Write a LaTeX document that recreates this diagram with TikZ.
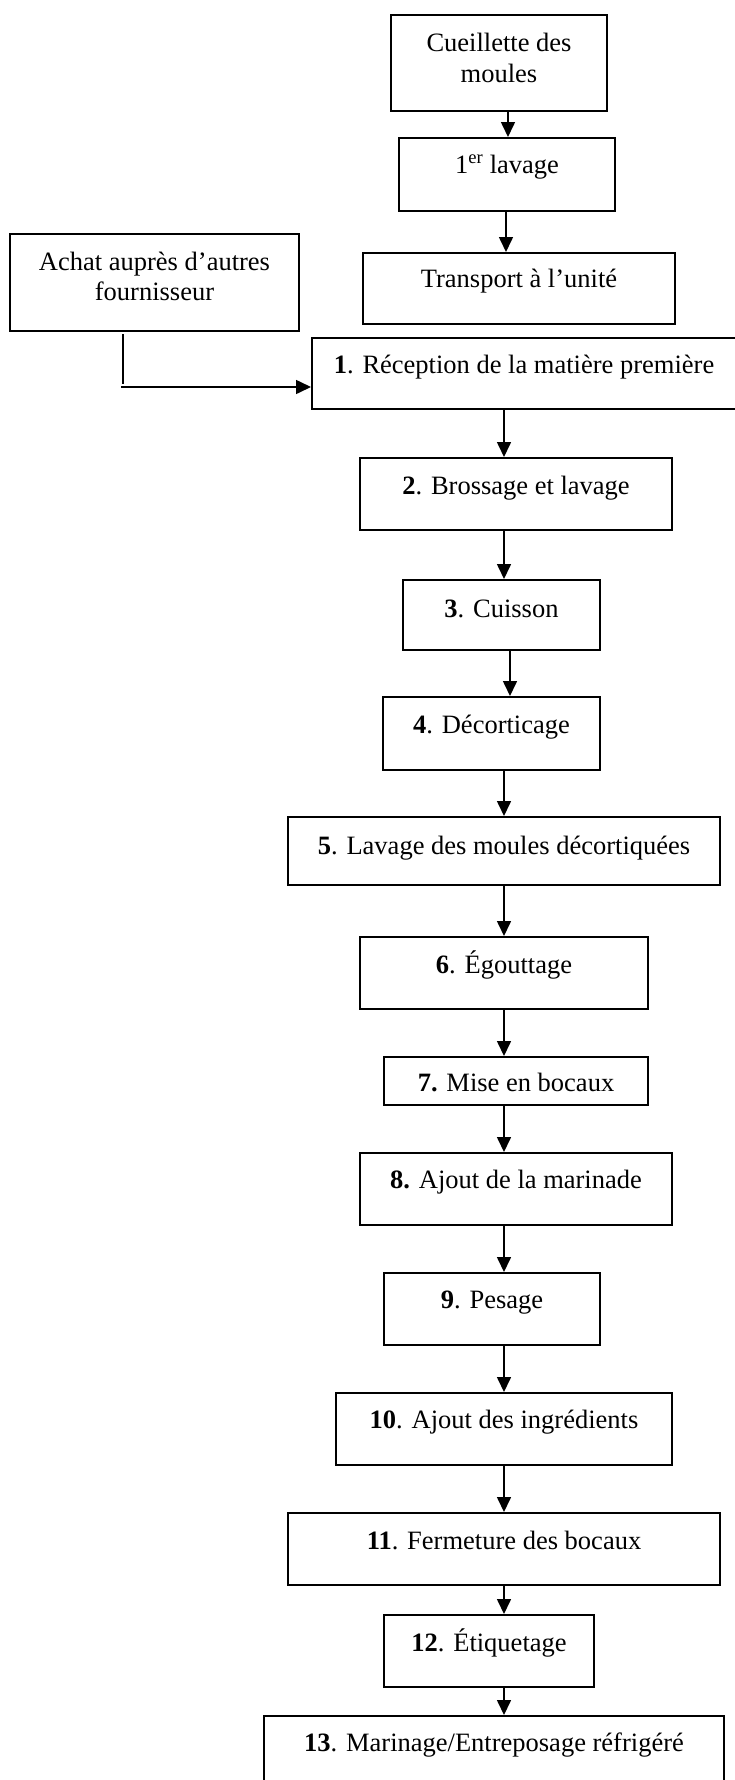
\documentclass[tikz,border=0pt]{standalone}
\usepackage{fontspec}
\setmainfont{Liberation Serif}
\usetikzlibrary{arrows.meta}

\tikzset{
  stepbox/.style={draw, line width=2pt, rectangle, inner sep=0pt},
  steptext/.style={anchor=base, inner sep=0pt, align=center,
    font=\fontsize{26.5}{31}\selectfont},
  flow/.style={line width=1.6pt, -{Triangle[length=15pt,width=14pt]}},
  plain/.style={line width=1.6pt}
}

\begin{document}
\begin{tikzpicture}[x=1pt, y=-1pt]
\useasboundingbox (0,0) rectangle (735,1780);
\clip (0,0) rectangle (735,1780);

% --- boxes (centre, width, height) ---
\node[stepbox, minimum width=216, minimum height=96] (cue)  at (499,63)    {};
\node[stepbox, minimum width=216, minimum height=73] (lav1) at (507,174.5) {};
\node[stepbox, minimum width=312, minimum height=71] (tra)  at (519,288.5) {};
\node[stepbox, minimum width=289, minimum height=97] (ach)  at (154.5,282.5) {};
\node[stepbox, minimum width=448, minimum height=71] (rec)  at (536,373.5) {};
\node[stepbox, minimum width=312, minimum height=72] (bro)  at (516,494)   {};
\node[stepbox, minimum width=197, minimum height=70] (cui)  at (501.5,615) {};
\node[stepbox, minimum width=217, minimum height=73] (dec)  at (491.5,733.5) {};
\node[stepbox, minimum width=432, minimum height=68] (lav5) at (504,851)   {};
\node[stepbox, minimum width=288, minimum height=72] (ego)  at (504,973)   {};
\node[stepbox, minimum width=264, minimum height=48] (mis)  at (516,1081)  {};
\node[stepbox, minimum width=312, minimum height=72] (mar)  at (516,1189)  {};
\node[stepbox, minimum width=216, minimum height=72] (pes)  at (492,1309)  {};
\node[stepbox, minimum width=336, minimum height=72] (ing)  at (504,1429)  {};
\node[stepbox, minimum width=432, minimum height=72] (fer)  at (504,1549)  {};
\node[stepbox, minimum width=210, minimum height=72] (eti)  at (489,1651)  {};
\node[stepbox, minimum width=460, minimum height=84] (mrg)  at (494,1758)  {};

% --- labels (placed on their baselines) ---
\node[steptext] (tcue1) at (499,51)  {Cueillette des};
\node[steptext] (tcue2) at (499,82)  {moules};
\node[steptext] (tlav1) at (507,173) {1\textsuperscript{er} lavage};
\node[steptext] (ttra)  at (519,287) {Transport à l’unité};
\node[steptext] (tach1) at (154.5,270) {Achat auprès d’autres};
\node[steptext] (tach2) at (154.5,300) {fournisseur};
\node[steptext] (trec)  at (524,373) {\textbf{1}. Réception de la matière première};
\node[steptext] (tbro)  at (516,494) {\textbf{2}. Brossage et lavage};
\node[steptext] (tcui)  at (501.5,617) {\textbf{3}. Cuisson};
\node[steptext] (tdec)  at (491.5,733) {\textbf{4}. Décorticage};
\node[steptext] (tlav5) at (504,854) {\textbf{5}. Lavage des moules décortiquées};
\node[steptext] (tego)  at (504,973) {\textbf{6}. Égouttage};
\node[steptext] (tmis)  at (516,1091) {\textbf{7.} Mise en bocaux};
\node[steptext] (tmar)  at (516,1188) {\textbf{8.} Ajout de la marinade};
\node[steptext] (tpes)  at (492,1308) {\textbf{9}. Pesage};
\node[steptext] (ting)  at (504,1428) {\textbf{10}. Ajout des ingrédients};
\node[steptext] (tfer)  at (504,1549) {\textbf{11}. Fermeture des bocaux};
\node[steptext] (teti)  at (489,1651) {\textbf{12}. Étiquetage};
\node[steptext] (tmrg)  at (494,1751) {\textbf{13}. Marinage/Entreposage réfrigéré};

% --- vertical positions of the connectors ---
\coordinate (xa) at (508,0);
\coordinate (xb) at (506,0);
\coordinate (xc) at (504,0);
\coordinate (xd) at (510,0);

\draw[flow] (cue.south -| xa)  -- (lav1.north -| xa);
\draw[flow] (lav1.south -| xb) -- (tra.north -| xb);
\draw[flow] (rec.south -| xc)  -- (bro.north -| xc);
\draw[flow] (bro.south -| xc)  -- (cui.north -| xc);
\draw[flow] (cui.south -| xd)  -- (dec.north -| xd);
\draw[flow] (dec.south -| xc)  -- (lav5.north -| xc);
\draw[flow] (lav5.south -| xc) -- (ego.north -| xc);
\draw[flow] (ego.south -| xc)  -- (mis.north -| xc);
\draw[flow] (mis.south -| xc)  -- (mar.north -| xc);
\draw[flow] (mar.south -| xc)  -- (pes.north -| xc);
\draw[flow] (pes.south -| xc)  -- (ing.north -| xc);
\draw[flow] (ing.south -| xc)  -- (fer.north -| xc);
\draw[flow] (fer.south -| xc)  -- (eti.north -| xc);
\draw[flow] (eti.south -| xc)  -- (mrg.north -| xc);

% --- side supply joining the reception step ---
\coordinate (s1) at (123,334);
\coordinate (s2) at (123,384);
\coordinate (s3) at (121,387);
\draw[plain] (s1) -- (s2);
\draw[flow] (s3) -- (s3 -| rec.west);
\end{tikzpicture}
\end{document}
